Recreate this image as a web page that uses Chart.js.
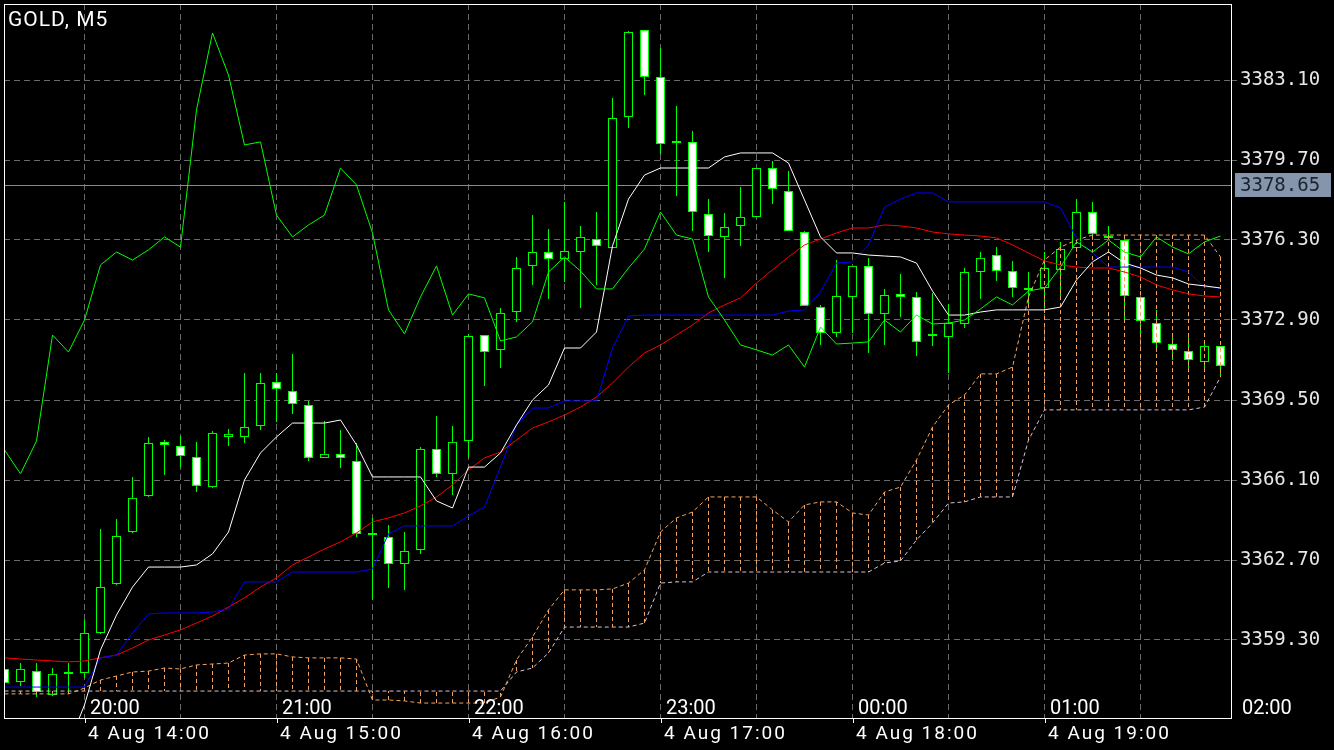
<!DOCTYPE html>
<html>
<head>
<meta charset="utf-8">
<title>GOLD, M5</title>
<script src="https://cdn.jsdelivr.net/npm/chart.js@4.4.1/dist/chart.umd.min.js"></script>
<style>
  html, body { margin: 0; padding: 0; background: #000; }
  canvas { display: block; }
</style>
</head>
<body>
<canvas id="chart" width="1334" height="750"></canvas>
<script>
/* GOLD M5 - velas + ichimoku */

// --- Datos ---
const symbolTitle = 'GOLD, M5';
const currentPrice = 3378.65;

const opens = [
  3358.07, 3357.52, 3357.98, 3356.96, 3357.86, 3357.90, 3359.60, 3361.68, 3363.89, 3365.42,
  3367.72, 3367.55, 3367.08, 3365.80, 3367.93, 3367.93, 3368.40, 3370.27, 3369.88, 3369.29,
  3367.04, 3367.21, 3366.91, 3363.76, 3363.68, 3362.53, 3363.13, 3367.42, 3366.36, 3367.76,
  3372.26, 3371.63, 3373.24, 3375.20, 3375.79, 3375.49, 3375.79, 3376.34, 3375.96, 3381.53,
  3385.23, 3383.23, 3380.42, 3380.47, 3377.41, 3376.43, 3376.90, 3377.28, 3379.36, 3378.38,
  3376.64, 3373.45, 3372.35, 3373.88, 3375.20, 3373.16, 3374.01, 3373.88, 3372.22, 3372.18,
  3372.73, 3374.94, 3375.66, 3374.98, 3374.18, 3374.26, 3375.03, 3375.96, 3377.49, 3376.47,
  3376.30, 3373.88, 3372.77, 3371.88, 3371.58, 3371.12, 3371.80
];
const highs = [
  3358.20, 3358.32, 3358.32, 3358.11, 3358.32, 3360.15, 3364.02, 3364.44, 3366.23, 3367.93,
  3367.80, 3367.97, 3367.72, 3368.18, 3368.27, 3370.65, 3370.65, 3370.65, 3371.46, 3369.46,
  3368.61, 3368.23, 3367.67, 3364.49, 3364.19, 3363.89, 3367.50, 3368.82, 3368.40, 3372.31,
  3372.26, 3373.41, 3375.58, 3377.36, 3376.77, 3377.91, 3376.90, 3377.49, 3382.34, 3385.18,
  3385.23, 3384.46, 3382.00, 3380.93, 3378.04, 3377.45, 3378.55, 3379.36, 3379.66, 3379.23,
  3376.68, 3373.54, 3375.45, 3375.20, 3375.54, 3374.22, 3374.86, 3374.09, 3374.05, 3373.58,
  3375.11, 3375.79, 3376.00, 3375.41, 3374.94, 3375.79, 3376.22, 3378.04, 3377.91, 3376.90,
  3376.30, 3373.88, 3373.33, 3372.18, 3372.26, 3371.93, 3371.80
];
const lows = [
  3357.26, 3357.35, 3356.88, 3356.92, 3357.05, 3357.69, 3359.56, 3361.64, 3363.85, 3365.38,
  3366.31, 3366.65, 3365.59, 3365.76, 3367.55, 3367.67, 3368.23, 3368.57, 3368.91, 3366.91,
  3367.04, 3366.61, 3363.68, 3361.00, 3361.51, 3361.43, 3362.96, 3366.23, 3365.46, 3367.04,
  3370.10, 3370.86, 3372.82, 3374.39, 3373.79, 3374.52, 3373.41, 3374.39, 3375.96, 3381.06,
  3382.46, 3379.96, 3378.17, 3376.68, 3375.79, 3374.69, 3376.05, 3377.28, 3377.83, 3376.68,
  3373.50, 3371.84, 3372.18, 3372.35, 3371.50, 3371.84, 3373.03, 3371.37, 3371.80, 3370.65,
  3372.56, 3373.79, 3374.56, 3373.88, 3373.54, 3373.41, 3373.88, 3375.79, 3376.30, 3376.39,
  3372.82, 3372.35, 3371.54, 3371.20, 3370.78, 3370.69, 3370.48
];
const closes = [
  3357.47, 3358.07, 3357.09, 3357.86, 3357.86, 3359.60, 3361.55, 3363.72, 3365.34, 3367.67,
  3367.59, 3367.12, 3365.85, 3368.10, 3368.06, 3368.35, 3370.22, 3369.97, 3369.33, 3367.04,
  3367.21, 3367.04, 3363.81, 3363.76, 3362.53, 3363.08, 3367.42, 3366.36, 3367.72, 3372.22,
  3371.54, 3373.20, 3375.11, 3375.79, 3375.49, 3375.83, 3376.43, 3376.05, 3381.49, 3385.14,
  3383.23, 3380.38, 3380.42, 3377.49, 3376.47, 3376.85, 3377.28, 3379.36, 3378.47, 3376.68,
  3373.50, 3372.35, 3373.92, 3375.20, 3373.16, 3373.96, 3373.88, 3371.97, 3372.22, 3372.77,
  3374.94, 3375.54, 3374.98, 3374.26, 3374.18, 3375.11, 3375.92, 3377.49, 3376.56, 3376.39,
  3373.92, 3372.86, 3371.92, 3371.63, 3371.20, 3371.80, 3370.95
];

// lineas del indicador
const greenLine = [
  3367.38, 3366.36, 3367.76, 3372.26, 3371.54, 3372.90, 3375.24, 3375.79, 3375.45, 3375.88,
  3376.43, 3376.00, 3381.83, 3385.10, 3383.31, 3380.34, 3380.47, 3377.36, 3376.43, 3376.94,
  3377.36, 3379.36, 3378.64, 3376.60, 3373.33, 3372.31, 3373.88, 3375.20, 3373.11, 3374.01,
  3373.84, 3372.01, 3372.18, 3372.82, 3374.94, 3375.58, 3374.98, 3374.22, 3374.22, 3375.11,
  3375.92, 3377.49, 3376.51, 3376.34, 3373.88, 3372.90, 3371.84, 3371.63, 3371.41, 3371.84,
  3370.90, 3372.60, 3371.88, 3371.92, 3371.97, 3372.90, 3372.39, 3373.11, 3372.73, 3372.77,
  3372.90, 3373.37, 3373.88, 3373.54, 3374.13, 3374.26, 3375.15, 3376.22, 3375.79, 3376.30,
  3375.79, 3375.58, 3376.43, 3376.00, 3375.71, 3376.22, 3376.47
];
const tenkanSen = [
  null, null, null, null, 3354.84, 3356.54, 3358.88, 3360.36, 3361.55, 3362.40,
  3362.40, 3362.40, 3362.49, 3362.96, 3363.89, 3366.10, 3367.25, 3367.93, 3368.52, 3368.52,
  3368.52, 3368.65, 3367.59, 3366.23, 3366.23, 3366.23, 3366.23, 3365.21, 3364.91, 3366.65,
  3366.65, 3367.25, 3368.44, 3369.50, 3370.14, 3371.71, 3371.71, 3372.39, 3376.05, 3378.04,
  3379.06, 3379.36, 3379.36, 3379.36, 3379.36, 3379.83, 3380.00, 3380.00, 3380.00, 3379.57,
  3378.00, 3376.43, 3375.75, 3375.75, 3375.66, 3375.62, 3375.58, 3375.32, 3374.13, 3373.11,
  3373.11, 3373.24, 3373.33, 3373.33, 3373.33, 3373.33, 3373.45, 3374.60, 3375.37, 3375.79,
  3375.32, 3375.11, 3374.81, 3374.69, 3374.43, 3374.35, 3374.26
];
const kijunSen = [
  3357.30, 3357.30, 3357.30, 3357.30, 3357.30, 3357.30, 3358.54, 3358.66, 3359.60, 3360.41,
  3360.45, 3360.45, 3360.45, 3360.49, 3360.62, 3361.77, 3361.77, 3361.77, 3362.19, 3362.19,
  3362.19, 3362.19, 3362.19, 3362.32, 3363.81, 3364.15, 3364.15, 3364.15, 3364.15, 3364.57,
  3364.95, 3366.65, 3368.44, 3369.16, 3369.16, 3369.46, 3369.46, 3369.46, 3371.71, 3373.07,
  3373.11, 3373.11, 3373.11, 3373.11, 3373.11, 3373.11, 3373.11, 3373.11, 3373.11, 3373.28,
  3373.33, 3374.09, 3375.32, 3375.37, 3376.09, 3377.70, 3378.04, 3378.30, 3378.30, 3377.92,
  3377.92, 3377.92, 3377.92, 3377.92, 3377.92, 3377.92, 3377.66, 3376.39, 3375.75, 3375.15,
  3375.15, 3375.15, 3375.15, 3375.15, 3374.94, 3374.30, 3374.26
];
const redLine = [
  3358.54, 3358.49, 3358.45, 3358.41, 3358.37, 3358.41, 3358.54, 3358.66, 3358.96, 3359.30,
  3359.51, 3359.73, 3360.02, 3360.32, 3360.70, 3361.09, 3361.55, 3361.94, 3362.49, 3362.83,
  3363.17, 3363.47, 3363.85, 3364.32, 3364.49, 3364.70, 3365.00, 3365.38, 3365.89, 3366.53,
  3367.04, 3367.29, 3367.80, 3368.31, 3368.57, 3368.86, 3369.20, 3369.63, 3370.22, 3370.90,
  3371.50, 3371.84, 3372.26, 3372.69, 3373.20, 3373.54, 3373.84, 3374.47, 3375.03, 3375.58,
  3376.09, 3376.34, 3376.60, 3376.81, 3376.81, 3376.94, 3376.90, 3376.81, 3376.64, 3376.56,
  3376.51, 3376.47, 3376.39, 3376.09, 3375.75, 3375.41, 3375.24, 3375.15, 3375.11, 3375.11,
  3374.94, 3374.73, 3374.39, 3374.18, 3374.01, 3373.92, 3373.88
];
const senkouA = [
  3357.01, 3357.01, 3357.01, 3357.01, 3357.01, 3357.26, 3357.60, 3357.77, 3357.94, 3357.98,
  3358.11, 3358.07, 3358.24, 3358.28, 3358.32, 3358.66, 3358.71, 3358.71, 3358.58, 3358.54,
  3358.54, 3358.54, 3358.49, 3356.75, 3356.75, 3356.71, 3356.62, 3356.62, 3356.62, 3356.62,
  3356.62, 3356.88, 3358.45, 3359.43, 3360.58, 3361.43, 3361.43, 3361.43, 3361.47, 3361.72,
  3362.28, 3363.89, 3364.49, 3364.74, 3365.38, 3365.38, 3365.38, 3365.38, 3364.83, 3364.32,
  3365.04, 3365.17, 3365.17, 3364.70, 3364.61, 3365.59, 3365.80, 3366.95, 3368.35, 3369.29,
  3369.71, 3370.61, 3370.61, 3370.90, 3373.88, 3375.45, 3376.00, 3376.30, 3376.51, 3376.51,
  3376.51, 3376.51, 3376.51, 3376.51, 3376.51, 3376.51, 3375.58
];
const senkouB = [
  3357.13, 3357.13, 3357.13, 3357.13, 3357.13, 3357.13, 3357.13, 3357.13, 3357.13, 3357.13,
  3357.13, 3357.13, 3357.13, 3357.13, 3357.13, 3357.13, 3357.13, 3357.13, 3357.13, 3357.13,
  3357.13, 3357.13, 3357.13, 3357.13, 3357.13, 3357.13, 3357.13, 3357.13, 3357.13, 3357.13,
  3357.13, 3357.13, 3357.94, 3358.11, 3358.75, 3359.85, 3359.85, 3359.85, 3359.85, 3359.85,
  3360.02, 3361.72, 3361.77, 3361.77, 3362.19, 3362.19, 3362.19, 3362.19, 3362.19, 3362.19,
  3362.19, 3362.19, 3362.19, 3362.19, 3362.19, 3362.57, 3362.66, 3363.55, 3364.27, 3365.12,
  3365.17, 3365.38, 3365.38, 3365.38, 3367.80, 3369.08, 3369.08, 3369.08, 3369.08, 3369.08,
  3369.08, 3369.08, 3369.08, 3369.08, 3369.08, 3369.20, 3370.48
];

// ejes
const priceTicks = [3359.30, 3362.70, 3366.10, 3369.50, 3372.90, 3376.30, 3379.70, 3383.10];
const gridBars = [5, 11, 17, 23, 29, 35, 41, 47, 53, 59, 65, 71];
const labelBars = [5, 17, 29, 41, 53, 65, 77];
const timeTop = ['20:00', '21:00', '22:00', '23:00', '00:00', '01:00', '02:00'];
const timeBottom = ['4 Aug 14:00', '4 Aug 15:00', '4 Aug 16:00', '4 Aug 17:00', '4 Aug 18:00', '4 Aug 19:00'];

// --- Construccion de datasets ---
const GREEN = '#00ff00';
const toXY = arr => arr.map((v, i) => ({ x: i, y: v }));

const wickData = highs.map((h, i) => ({ x: i, y: [lows[i], h] }));
const bodyData = opens.map((o, i) => ({ x: i, y: [Math.min(o, closes[i]), Math.max(o, closes[i])] }));
const bodyColors = opens.map((o, i) => closes[i] < o ? '#ffffff' : '#000000');

// rayado vertical de la nube
const hatchData = [];
senkouA.forEach((a, i) => {
    hatchData.push({ x: i, y: a }, { x: i, y: senkouB[i] }, { x: i, y: null });
});

const lineBase = { type: 'line', borderWidth: 1, pointRadius: 0, tension: 0, fill: false };

// --- Plugin: marco, textos y linea de precio ---
const overlayPlugin = {
    id: 'overlay',
    beforeDatasetsDraw(chart) {
        const { ctx, chartArea: a, scales: { y } } = chart;
        const py = Math.round(y.getPixelForValue(currentPrice)) + 0.5;
        ctx.save();
        ctx.strokeStyle = '#7d8aa6';
        ctx.lineWidth = 1;
        ctx.beginPath();
        ctx.moveTo(a.left, py);
        ctx.lineTo(a.right, py);
        ctx.stroke();
        ctx.restore();
    },
    afterDraw(chart) {
        const { ctx, chartArea: a, scales: { x, y } } = chart;
        ctx.save();

        // marco
        ctx.strokeStyle = '#ffffff';
        ctx.lineWidth = 1;
        ctx.strokeRect(a.left + 0.5, a.top + 0.5, a.right - a.left, a.bottom - a.top);

        // titulo
        ctx.fillStyle = '#ffffff';
        ctx.font = '21px Roboto';
        ctx.letterSpacing = '1px';
        ctx.textBaseline = 'middle';
        ctx.fillText(symbolTitle, 8, 21);

        // etiquetas de tiempo
        labelBars.forEach((b, k) => {
            const px = Math.round(x.getPixelForValue(b));
            ctx.fillStyle = '#ffffff';
            ctx.font = '20px Roboto';
            ctx.letterSpacing = '0px';
            ctx.fillText(timeTop[k], px + 5, 709);
            if (timeBottom[k]) {
                ctx.font = '19px Roboto';
                ctx.letterSpacing = '2px';
                ctx.fillText(timeBottom[k], px + 3, 734);
                ctx.strokeStyle = '#ffffff';
                ctx.beginPath();
                ctx.moveTo(px + 0.5, a.bottom);
                ctx.lineTo(px + 0.5, a.bottom + 5);
                ctx.stroke();
            }
        });

        // etiqueta de precio actual
        const py = Math.round(y.getPixelForValue(currentPrice));
        ctx.letterSpacing = '0px';
        ctx.fillStyle = '#8595ab';
        ctx.fillRect(a.right + 4, py - 12, 96, 24);
        ctx.fillStyle = '#1c2330';
        ctx.font = '19px "DejaVu Sans Mono"';
        ctx.fillText(currentPrice.toFixed(2), a.right + 9, py + 1);
        ctx.restore();
    }
};

// --- Grafico ---
new Chart(document.getElementById('chart'), {
    type: 'bar',
    data: {
        datasets: [
            { ...lineBase, label: 'green', data: toXY(greenLine), borderColor: GREEN, order: 1 },
            { ...lineBase, label: 'tenkan', data: toXY(tenkanSen), borderColor: '#ffffff', order: 2 },
            { ...lineBase, label: 'kijun', data: toXY(kijunSen), borderColor: '#0000ff', order: 3 },
            { ...lineBase, label: 'red', data: toXY(redLine), borderColor: '#ff0000', order: 4 },
            { ...lineBase, label: 'senkouA', data: toXY(senkouA), borderColor: '#f4a460', borderDash: [4, 3], order: 5 },
            { ...lineBase, label: 'senkouB', data: toXY(senkouB), borderColor: '#d8bfd8', borderDash: [4, 3], order: 6 },
            { ...lineBase, label: 'nube', data: hatchData, borderColor: '#f4a460', borderDash: [4, 3], spanGaps: false, order: 7 },
            {
                type: 'bar', label: 'cuerpo', data: bodyData, grouped: false, barThickness: 9,
                backgroundColor: bodyColors, borderColor: GREEN, borderWidth: 1, borderSkipped: false,
                minBarLength: 2, inflateAmount: 0, order: 8
            },
            {
                type: 'bar', label: 'mecha', data: wickData, grouped: false, barThickness: 1,
                backgroundColor: GREEN, borderWidth: 0, inflateAmount: 0, order: 9
            }
        ]
    },
    options: {
        responsive: false,
        animation: false,
        events: [],
        layout: { padding: { left: 4, top: 4, right: 0, bottom: 0 } },
        plugins: { legend: { display: false }, tooltip: { enabled: false } },
        scales: {
            x: {
                type: 'linear',
                min: -0.03125,
                max: 76.65625,
                offset: false,
                afterBuildTicks: s => { s.ticks = gridBars.map(v => ({ value: v })); },
                afterFit: s => { s.height = 32; s.paddingLeft = 0; s.paddingRight = 0; },
                ticks: { display: false },
                grid: { display: true, color: '#6a6a6a', lineWidth: 1, drawTicks: false, offset: false },
                border: { display: false, dash: [6, 4] }
            },
            y: {
                type: 'linear',
                position: 'right',
                min: 3355.985,
                max: 3386.33,
                beginAtZero: false,
                afterBuildTicks: s => { s.ticks = priceTicks.map(v => ({ value: v })); },
                afterFit: s => { s.width = 103; s.paddingTop = 0; s.paddingBottom = 0; },
                ticks: {
                    color: '#e6e6e6',
                    padding: 3,
                    font: { family: 'DejaVu Sans Mono', size: 19 },
                    callback: v => v.toFixed(2)
                },
                grid: { color: '#6a6a6a', lineWidth: 1, tickLength: 6, tickColor: '#6a6a6a', tickBorderDash: [] },
                border: { display: false, dash: [6, 4] }
            }
        }
    },
    plugins: [overlayPlugin]
});
</script>
</body>
</html>
